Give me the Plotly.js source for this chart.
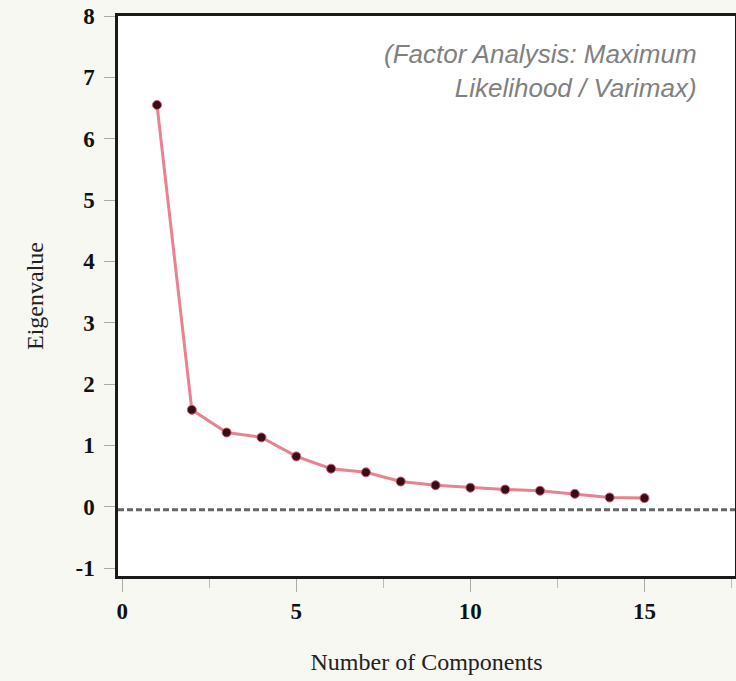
<!DOCTYPE html>
<html>
<head>
<meta charset="utf-8">
<script src="https://cdn.plot.ly/plotly-3.0.1.min.js"></script>
<style>html,body{margin:0;padding:0;background:#f8f8f3;}#chart{width:736px;height:681px;}</style>
</head>
<body>
<div id="chart"></div>
<script>
var components = [1,2,3,4,5,6,7,8,9,10,11,12,13,14,15];
var eigenvalues = [6.55,1.58,1.21,1.13,0.82,0.62,0.56,0.41,0.35,0.31,0.28,0.26,0.21,0.15,0.14];
var referenceLevel = -0.05;
var xTickVals = [0,5,10,15];
var yTickVals = [-1,0,1,2,3,4,5,6,7,8];
var yTickText = ['-1','0','1','2','3','4','5','6','7','8'];
var noteText = "(Factor Analysis: Maximum<br>Likelihood / Varimax)";

var serif = 'Liberation Serif, Times New Roman, serif';

var trace = {
  x: components, y: eigenvalues, mode: 'lines+markers', type: 'scatter',
  line: {color: '#e8828f', width: 3},
  marker: {color: '#3a0c16', size: 9, line: {color: '#c86070', width: 1}},
  hoverinfo: 'x+y', showlegend: false
};

var layout = {
  width: 736, height: 681,
  margin: {l: 118, r: 1, t: 16, b: 105},
  paper_bgcolor: '#f8f8f3', plot_bgcolor: '#ffffff',
  xaxis: {
    range: [-0.12, 17.6], tickvals: xTickVals, showgrid: false, zeroline: false,
    showline: true, mirror: true, linecolor: '#1a1a1a', linewidth: 2.5,
    ticks: 'outside', ticklen: 13, tickcolor: '#aaa', tickwidth: 1,
    minor: {dtick: 2.5, tick0: 0, ticks: 'outside', ticklen: 9, tickcolor: '#bbb', showgrid: false},
    tickfont: {family: serif, size: 23, color: '#111', weight: 'bold'},
    title: {text: 'Number of Components', font: {family: serif, size: 24, color: '#222'}, standoff: 30}
  },
  yaxis: {
    range: [-1.13, 8.0], tickvals: yTickVals, ticktext: yTickText, showgrid: false, zeroline: false,
    showline: true, mirror: true, linecolor: '#1a1a1a', linewidth: 2.5,
    ticks: 'outside', ticklen: 11, tickcolor: '#aaa', tickwidth: 1,
    ticklabelstandoff: 5,
    tickfont: {family: serif, size: 23, color: '#111', weight: 'bold'},
    title: {text: 'Eigenvalue', font: {family: serif, size: 24, color: '#222'}, standoff: 26}
  },
  shapes: [{
    type: 'line', xref: 'paper', x0: 0, x1: 1, yref: 'y', y0: referenceLevel, y1: referenceLevel,
    line: {color: '#666', width: 3, dash: '6px,3px'}
  }],
  annotations: [{
    text: noteText, xref: 'paper', yref: 'paper', x: 0.942, y: 0.962, xanchor: 'right', yanchor: 'top',
    align: 'right', showarrow: false,
    font: {family: 'Liberation Sans, Arial, sans-serif', size: 26, color: '#808080', style: 'italic'}
  }]
};

Plotly.newPlot('chart', [trace], layout, {displayModeBar: false});
</script>
</body>
</html>
